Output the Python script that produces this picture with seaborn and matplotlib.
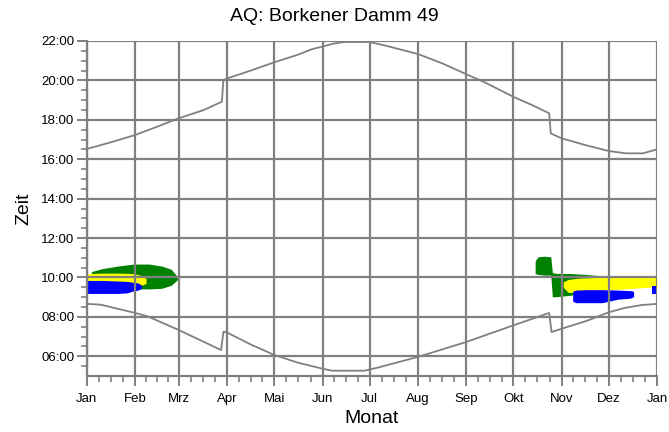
import numpy as np
import pandas as pd
import seaborn as sns
import matplotlib.pyplot as plt
from matplotlib.ticker import FixedLocator

# --- Data (x = day of year, y = hour of day) ---
MONTH_LABELS = ["Jan", "Feb", "Mrz", "Apr", "Mai", "Jun", "Jul",
                "Aug", "Sep", "Okt", "Nov", "Dez", "Jan"]
MONTH_START = [0, 31, 59, 90, 120, 151, 181, 212, 243, 273, 304, 334, 365]
HOUR_TICKS = [6, 8, 10, 12, 14, 16, 18, 20, 22]

# sunset line
sunset_day = [0, 15, 31, 45, 59, 75, 86.5, 87.5, 90, 105, 120, 135, 144, 151,
              158, 165, 181, 192, 212, 228, 243, 254, 273, 285, 296, 297,
              304, 320, 334, 345, 356, 365]
sunset_hour = [16.52, 16.85, 17.23, 17.65, 18.08, 18.5, 18.92, 20.02, 20.1,
               20.5, 20.92, 21.3, 21.58, 21.72, 21.87, 21.95, 21.95, 21.75,
               21.34, 20.85, 20.31, 19.93, 19.17, 18.75, 18.33, 17.31, 17.06,
               16.7, 16.42, 16.3, 16.3, 16.5]

# sunrise line
sunrise_day = [0, 9, 31, 39, 59, 86, 87.5, 90, 105, 120, 135, 151, 157, 178,
               181, 186, 212, 243, 273, 296, 297.5, 304, 320, 334, 344, 355, 365]
sunrise_hour = [8.66, 8.62, 8.2, 8.03, 7.33, 6.32, 7.25, 7.2, 6.6, 6.07, 5.68,
                5.37, 5.27, 5.27, 5.33, 5.42, 5.97, 6.73, 7.57, 8.2, 7.23, 7.4,
                7.8, 8.23, 8.45, 8.6, 8.66]

# shadow areas, early year
green_a_day = [3, 10, 20, 30, 40, 48, 54, 58]
green_a_top = [10.3, 10.45, 10.58, 10.68, 10.68, 10.58, 10.42, 10.05]
green_a_bot = [10.1, 9.6, 9.45, 9.42, 9.42, 9.45, 9.6, 9.88]

yellow_a_day = [0, 10, 20, 30, 35, 38]
yellow_a_top = [10.2, 10.22, 10.22, 10.2, 10.1, 9.95]
yellow_a_bot = [9.75, 9.7, 9.65, 9.62, 9.6, 9.7]

blue_a_day = [0, 10, 20, 26, 30, 33, 35]
blue_a_top = [9.85, 9.85, 9.82, 9.8, 9.75, 9.72, 9.62]
blue_a_bot = [9.19, 9.19, 9.19, 9.22, 9.32, 9.36, 9.45]

# shadow areas, late year
green_b_day = [287, 289, 293, 297, 298, 300, 310, 320, 330, 338, 341]
green_b_top = [10.85, 11.05, 11.08, 11.05, 10.25, 10.21, 10.2, 10.15, 10.08, 10.0, 9.9]
green_b_bot = [10.2, 10.15, 10.12, 10.12, 9.02, 9.02, 9.1, 9.3, 9.4, 9.5, 9.7]

yellow_b_day = [305, 308, 315, 325, 335, 345, 355, 365]
yellow_b_top = [9.78, 9.9, 9.97, 10.0, 10.02, 10.05, 10.07, 10.07]
yellow_b_bot = [9.5, 9.25, 9.2, 9.3, 9.38, 9.42, 9.48, 9.53]

blue_b_day = [311, 313, 320, 330, 340, 348, 350]
blue_b_top = [9.3, 9.36, 9.38, 9.38, 9.36, 9.33, 9.3]
blue_b_bot = [8.8, 8.72, 8.72, 8.72, 8.9, 8.95, 9.02]

blue_c_day = [361.5, 365]
blue_c_top = [9.55, 9.55]
blue_c_bot = [9.15, 9.15]

GRAY = "#808080"
GREEN = "#008000"
YELLOW = "#FFFF00"
BLUE = "#0000FF"

sns.set_theme(style="white")
plt.rcParams["font.family"] = ["Liberation Sans", "DejaVu Sans"]
plt.rcParams["text.color"] = "black"
plt.rcParams["axes.labelcolor"] = "black"
plt.rcParams["xtick.labelcolor"] = "black"
plt.rcParams["ytick.labelcolor"] = "black"

fig = plt.figure(figsize=(6.69, 4.32), dpi=100)
ax = fig.add_axes([0.1296, 0.1296, 0.8525, 0.7755])

# shaded areas (green below yellow below blue)
areas = [
    (green_a_day, green_a_top, green_a_bot, GREEN),
    (green_b_day, green_b_top, green_b_bot, GREEN),
    (yellow_a_day, yellow_a_top, yellow_a_bot, YELLOW),
    (yellow_b_day, yellow_b_top, yellow_b_bot, YELLOW),
    (blue_a_day, blue_a_top, blue_a_bot, BLUE),
    (blue_b_day, blue_b_top, blue_b_bot, BLUE),
    (blue_c_day, blue_c_top, blue_c_bot, BLUE),
]
for days, top, bot, col in areas:
    ax.fill_between(days, bot, top, color=col, linewidth=0, zorder=1)

# sunrise / sunset lines
lines = pd.concat([
    pd.DataFrame({"day": sunset_day, "hour": sunset_hour, "kind": "sunset"}),
    pd.DataFrame({"day": sunrise_day, "hour": sunrise_hour, "kind": "sunrise"}),
])
sns.lineplot(data=lines, x="day", y="hour", units="kind", estimator=None,
             sort=False, color=GRAY, linewidth=1.3, ax=ax, legend=False)

ax.set_xlim(0, 365)
ax.set_ylim(5, 22)

# month ticks + quarter-month minor ticks
minor_x = []
for a, b in zip(MONTH_START[:-1], MONTH_START[1:]):
    minor_x += [a + (b - a) * k / 4 for k in (1, 2, 3)]
ax.set_xticks(MONTH_START)
ax.set_xticklabels(MONTH_LABELS)
ax.xaxis.set_minor_locator(FixedLocator(minor_x))

ax.set_yticks(HOUR_TICKS)
ax.set_yticklabels([f"{h:02d}:00" for h in HOUR_TICKS])
ax.yaxis.set_minor_locator(FixedLocator(np.arange(5.5, 22, 0.5)))

ax.grid(True, which="major", color=GRAY, linewidth=1.6)
ax.set_axisbelow(False)

for side in ["top", "right"]:
    ax.spines[side].set_visible(False)
for side in ["left", "bottom"]:
    ax.spines[side].set_color(GRAY)
    ax.spines[side].set_linewidth(1.6)

ax.tick_params(which="major", direction="out", length=7, width=1.4,
               color=GRAY, labelsize=9.5, pad=2, bottom=True, left=True)
ax.tick_params(axis="x", which="major", pad=5)
ax.tick_params(which="minor", direction="out", length=4, width=1.2,
               color=GRAY, bottom=True, left=True)

ax.set_xlabel("Monat", fontsize=14, labelpad=4)
ax.set_ylabel("Zeit", fontsize=14, labelpad=6)
fig.text(0.5, 0.962, "AQ: Borkener Damm 49", ha="center", va="center", fontsize=14)

fig.savefig("out.png", dpi=100, facecolor="white")
